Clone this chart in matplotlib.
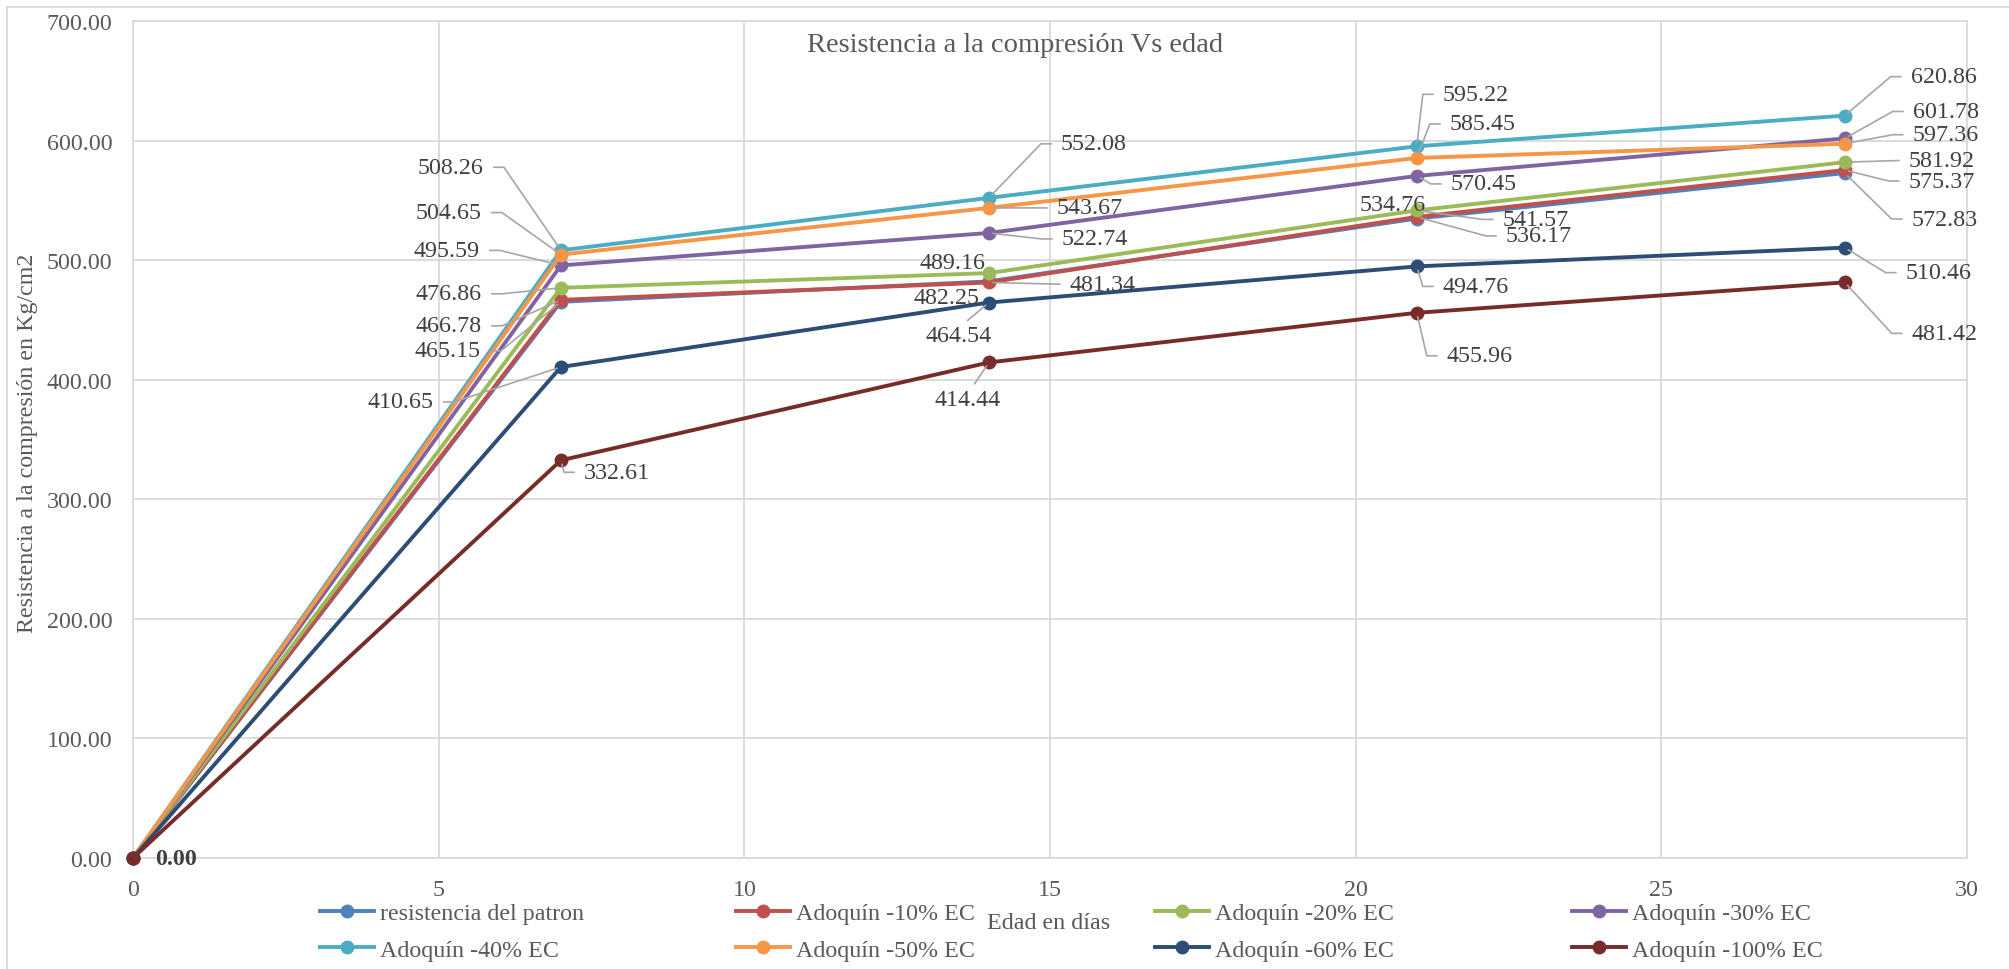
import math
import matplotlib.pyplot as plt
from matplotlib.patches import Rectangle

plt.rcParams['font.family'] = ['Liberation Serif', 'DejaVu Serif']

# edad en dias y resistencia (Kg/cm2) de cada serie
dias = [0, 7, 14, 21, 28]
patron = [0.00, 465.15, 482.25, 534.76, 572.83]
ec10 = [0.00, 466.78, 481.34, 536.17, 575.37]
ec20 = [0.00, 476.86, 489.16, 541.57, 581.92]
ec30 = [0.00, 495.59, 522.74, 570.45, 601.78]
ec40 = [0.00, 508.26, 552.08, 595.22, 620.86]
ec50 = [0.00, 504.65, 543.67, 585.45, 597.36]
ec60 = [0.00, 410.65, 464.54, 494.76, 510.46]
ec100 = [0.00, 332.61, 414.44, 455.96, 481.42]

nombres = ['resistencia del patron', 'Adoquín -10% EC', 'Adoquín -20% EC', 'Adoquín -30% EC',
           'Adoquín -40% EC', 'Adoquín -50% EC', 'Adoquín -60% EC', 'Adoquín -100% EC']
series = [patron, ec10, ec20, ec30, ec40, ec50, ec60, ec100]
colores = ['#4F81BD', '#C0504D', '#9BBB59', '#8064A2', '#4BACC6', '#F79646', '#2C4D75', '#772C2A']

# posicion de las etiquetas (offset en pixeles, alineacion, linea guia) para dias 7, 14, 21, 28
etiquetas = [
    [(-80, -49, 'right', True), (-9, -16, 'right', False), (9, 14, 'right', False), (67, -46, 'left', True)],
    [(-79, -26, 'right', True), (81, -2, 'left', True), (89, -19, 'left', True), (64, -11, 'left', True)],
    [(-79, -6, 'right', True), (-3, 11, 'right', False), (86, -9, 'left', True), (64, 2, 'left', True)],
    [(-81, 15, 'right', True), (73, -6, 'left', True), (34, -8, 'left', True), (68, 27, 'left', True)],
    [(-77, 83, 'right', True), (72, 54, 'left', True), (26, 52, 'left', True), (66, 39, 'left', True)],
    [(-79, 42, 'right', True), (68, 0, 'left', True), (33, 34, 'left', True), (68, 9, 'left', True)],
    [(-127, -35, 'right', True), (-30, -33, 'center', True), (26, -20, 'left', True), (61, -25, 'left', True)],
    [(23, -12, 'left', True), (-21, -37, 'center', True), (30, -43, 'left', True), (67, -51, 'left', True)],
]

W, H = 2009, 970
fig = plt.figure(figsize=(W / 100, H / 100), dpi=100)
ax = fig.add_axes([133 / W, 1 - 859 / H, (1967 - 133) / W, (859 - 22) / H])

gris = '#595959'
guia = '#A6A6A6'

for nombre, vals, c in zip(nombres, series, colores):
    ax.plot(dias, vals, color=c, lw=2.8, marker='o', markersize=9, markeredgecolor=c,
            label=nombre, clip_on=False, zorder=3)

for vals, pos in zip(series, etiquetas):
    for x, y, (dx, dy, ha, linea) in zip(dias[1:], vals[1:], pos):
        arrow = None
        if linea:
            if ha == 'center':
                arrow = dict(arrowstyle='-', color=guia, lw=1.2, relpos=(0.55, 1.0),
                             shrinkA=2, shrinkB=3)
            else:
                s = 1 if ha == 'left' else -1
                relpos = (0.0, 0.5) if ha == 'left' else (1.0, 0.5)
                cx = dx - s * 20
                if abs(dy) < 4:
                    cs = 'arc3'
                else:
                    ang = math.degrees(math.atan2(dy, cx)) if abs(cx) > 0.5 else 90.0
                    cs = f'angle,angleA=0,angleB={ang:.2f},rad=0'
                arrow = dict(arrowstyle='-', color=guia, lw=1.2, relpos=relpos,
                             connectionstyle=cs, shrinkA=5, shrinkB=3)
        ax.annotate(f'{y:.2f}', (x, y), xytext=(dx, dy), textcoords='offset pixels',
                    ha=ha, va='center', fontsize=17.3, color='#404040',
                    arrowprops=arrow, zorder=5)

ax.annotate(f'{patron[0]:.2f}', (dias[0], patron[0]), xytext=(22, -1), textcoords='offset pixels',
            ha='left', va='center', fontsize=17.3, fontweight='bold', color='#404040', zorder=5)

ax.set_xlim(0, 30)
ax.set_ylim(0, 700)
ax.set_xticks(range(0, 31, 5))
ax.set_yticks(range(0, 701, 100))
ax.set_yticklabels([f'{v:.2f}' for v in range(0, 701, 100)])
ax.tick_params(length=0, labelsize=17.3, labelcolor=gris)
ax.tick_params(axis='y', pad=15)
ax.tick_params(axis='x', pad=15)
ax.grid(True, color='#D9D9D9', lw=1.3)
ax.set_axisbelow(True)
for sp in ax.spines.values():
    sp.set_color('#D9D9D9')
    sp.set_linewidth(1.3)

fig.text(1015 / W, 1 - 45 / H, 'Resistencia a la compresión Vs edad', ha='center', va='center',
         fontsize=20.5, color=gris)
fig.text(28 / W, 1 - 443 / H, 'Resistencia a la compresión en Kg/cm2', rotation=90,
         ha='center', va='center', fontsize=17.3, color=gris)
fig.text(1049 / W, 1 - 924 / H, 'Edad en días', ha='center', va='center', fontsize=17.3, color=gris)

# leyenda en 4 columnas con el mismo ancho, como en Excel
handles, labels = ax.get_legend_handles_labels()
col_x = [320, 736, 1155, 1572]
for i, x0 in enumerate(col_x):
    leg = fig.legend([handles[i], handles[i + 4]], [labels[i], labels[i + 4]],
                     loc='center left', bbox_to_anchor=(x0 / W, 1 - 932.5 / H),
                     bbox_transform=fig.transFigure, frameon=False, fontsize=17.3,
                     handlelength=2.25, handletextpad=0.25, labelspacing=0.62,
                     borderpad=0, borderaxespad=0)
    for t in leg.get_texts():
        t.set_color(gris)

fig.patches.append(Rectangle((7 / W, -0.1), 1.2, 0.1 + (H - 8) / H, transform=fig.transFigure,
                             fill=False, ec='#D9D9D9', lw=1.3))

fig.savefig('out.png', dpi=100)
